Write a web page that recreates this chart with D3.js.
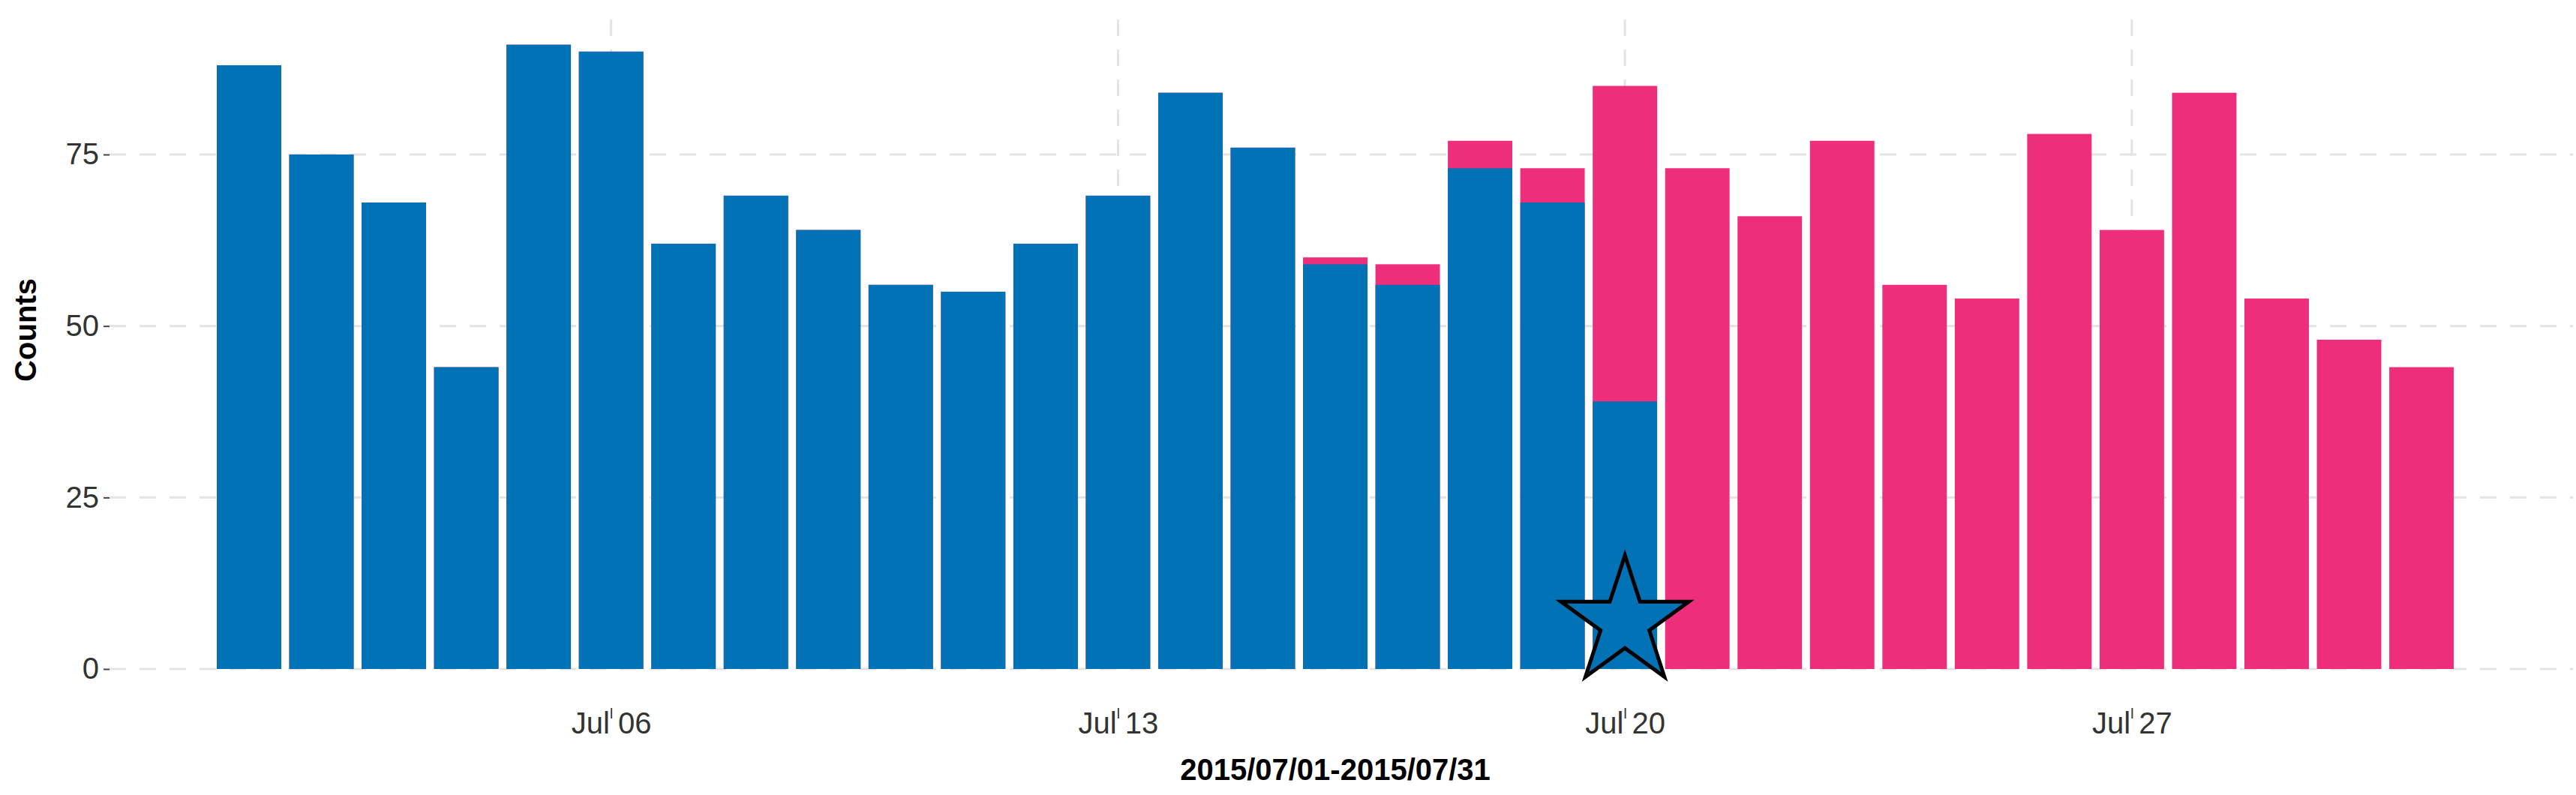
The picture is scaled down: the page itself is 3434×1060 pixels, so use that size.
<!DOCTYPE html>
<html><head><meta charset="utf-8">
<script src="https://cdn.jsdelivr.net/npm/d3@7"></script>
<style>body{margin:0;background:#fff}text{font-family:"Liberation Sans",Arial,sans-serif}</style>
</head><body><svg id="c" width="3434" height="1060"></svg>
<script>
'use strict';
const days = d3.range(1, 32);
// blue part per day (0 = none)
const blueVals = [88,75,68,44,91,90,62,69,64,56,55,62,69,84,76,59,56,73,68,39,0,0,0,0,0,0,0,0,0,0,0];
// bar totals per day
const totalVals = [88,75,68,44,91,90,62,69,64,56,55,62,69,84,76,60,59,77,73,85,73,66,77,56,54,78,64,84,54,48,44];
const yTicks = [0, 25, 50, 75];
const xTicks = [6, 13, 20, 27];
const tickLabels = ["Jul 06", "Jul 13", "Jul 20", "Jul 27"];
const starDay = 20;

const svg = d3.select('#c');
const x = d3.scaleBand().domain(days).range([289, 3271]).paddingInner(0.11);
const y = d3.scaleLinear().domain([0, 75]).range([892, 206]);
const cx = d => x(d) + x.bandwidth() / 2;

// grid
svg.selectAll('.hg').data(yTicks).enter().append('line')
  .attr('x1', 146).attr('x2', 3430).attr('y1', d => y(d)).attr('y2', d => y(d))
  .attr('stroke', '#e3e3e3').attr('stroke-width', 3).attr('stroke-dasharray', '22,18');
svg.selectAll('.vg').data(xTicks).enter().append('line')
  .attr('x1', cx).attr('x2', cx).attr('y1', 26).attr('y2', 892)
  .attr('stroke', '#e3e3e3').attr('stroke-width', 3).attr('stroke-dasharray', '22,18');

// bars
svg.selectAll('.tot').data(days).enter().append('rect')
  .attr('x', d => x(d)).attr('width', x.bandwidth())
  .attr('y', d => y(totalVals[d - 1])).attr('height', d => y(0) - y(totalVals[d - 1]))
  .attr('fill', '#EE2E7A');
svg.selectAll('.blu').data(days.filter(d => blueVals[d - 1] > 0)).enter().append('rect')
  .attr('x', d => x(d)).attr('width', x.bandwidth())
  .attr('y', d => y(blueVals[d - 1])).attr('height', d => y(0) - y(blueVals[d - 1]))
  .attr('fill', '#0072B5');

// axes
const ya = svg.append('g').attr('transform', 'translate(146,0)')
  .call(d3.axisLeft(y).tickValues(yTicks).tickSize(8).tickPadding(6));
ya.select('.domain').remove();
ya.selectAll('line').attr('stroke', '#444').attr('stroke-width', 2);
ya.selectAll('text').attr('font-size', 40).attr('fill', '#333');

const xs = d3.scalePoint().domain(tickLabels).range([cx(6), cx(27)]);
const xa = svg.append('g').attr('transform', 'translate(0,892)')
  .call(d3.axisBottom(xs).tickSize(14).tickPadding(12));
xa.select('.domain').remove();
xa.selectAll('line').attr('stroke', '#444').attr('stroke-width', 2).attr('y1', 52).attr('y2', 66);
xa.selectAll('text').attr('font-size', 40).attr('fill', '#333').attr('dy', '1.5em');

svg.append('text').attr('x', 1780).attr('y', 1040).attr('text-anchor', 'middle')
  .attr('font-size', 40).attr('font-weight', 'bold').text('2015/07/01-2015/07/31');
svg.append('text').attr('transform', 'translate(48,440) rotate(-90)').attr('text-anchor', 'middle')
  .attr('font-size', 40).attr('font-weight', 'bold').text('Counts');

// star
svg.append('path').attr('d', d3.symbol(d3.symbolStar, 9000)())
  .attr('transform', `translate(${cx(starDay)},${y(0) - 62})`)
  .attr('fill', '#0072B5').attr('stroke', '#000').attr('stroke-width', 5);
</script></body></html>
